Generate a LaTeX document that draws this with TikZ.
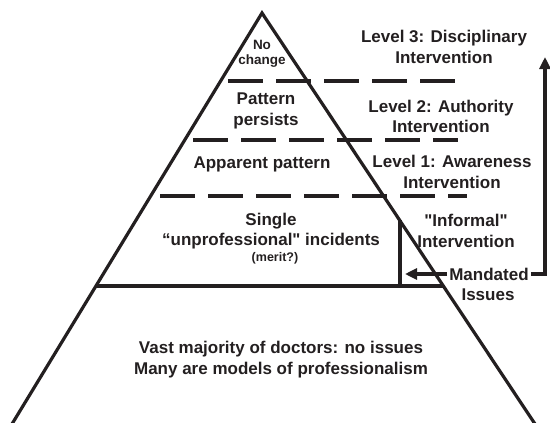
\documentclass[tikz,border=0pt]{standalone}
\usepackage{fontspec}
\setmainfont{Liberation Sans}[Ligatures=TeXOff]
\usetikzlibrary{arrows.meta}
\definecolor{ink}{HTML}{231F20}
\begin{document}
\begin{tikzpicture}[x=1pt,y=-1pt,
  lbl/.style={font=\bfseries\fontsize{17}{20.5}\selectfont, text=ink, align=center, inner sep=0pt},
  small/.style={font=\bfseries\fontsize{13.5}{15}\selectfont, text=ink, align=center, inner sep=0pt},
  tiny/.style={font=\bfseries\fontsize{12.5}{14}\selectfont, text=ink, align=center, inner sep=0pt},
  solidline/.style={draw=ink, line width=3.2pt},
  dashline/.style={draw=ink, line width=4pt, dash pattern=on 35pt off 13pt},
  conn/.style={draw=ink, line width=3.5pt},
  tip/.style={-{Triangle[length=12pt,width=11pt]}}]
\useasboundingbox (0,0) rectangle (550,423);
% pyramid
\coordinate (apex) at (262,13);
\coordinate (bl) at (12,424);
\coordinate (br) at (535,424);
\draw[solidline, line join=miter] (bl) -- (apex) -- (br);
% base line of upper part
\coordinate (hl) at (95.5,286);
\coordinate (hr) at (443.8,286);
\draw[solidline] (hl) -- (hr);
% vertical divider
\coordinate (vb) at (400,286);
\coordinate (vt) at (400,220.3);
\draw[solidline] (vb) -- (vt);
% dashed lines
\coordinate (d1a) at (228,81);  \coordinate (d1b) at (458,81);
\coordinate (d2a) at (193,140); \coordinate (d2b) at (458,140);
\coordinate (d3a) at (160,196); \coordinate (d3b) at (467,196);
\draw[dashline] (d1a) -- (d1b);
\draw[dashline] (d2a) -- (d2b);
\draw[dashline] (d3a) -- (d3b);
% pyramid texts
\node[small] (nochange) at (262,53.5) {No\\change};
\node[lbl] (persists) at (266,111) {Pattern\\persists};
\node[lbl] (apparent) at (262,164) {Apparent pattern};
\node[lbl] (single) at (271,231) {Single\\“unprofessional" incidents};
\node[tiny] (merit) at (275,258) {(merit?)};
\node[lbl] (vast) at (281,359.5) {Vast majority of doctors: no issues\\Many are models of professionalism};
% right labels
\node[lbl] (lev3) at (444,47) {Level 3: Disciplinary\\Intervention};
\node[lbl] (lev2) at (441,116.5) {Level 2: Authority\\Intervention};
\node[lbl] (lev1) at (452,172) {Level 1: Awareness\\Intervention};
\node[lbl] (informal) at (466,231) {"Informal"\\Intervention};
\node[lbl] (mandated) at (489,274) {Mandated};
\node[lbl] (issues) at (488,295) {Issues};
% arrows
\coordinate (arrtip) at (405,274);
\draw[conn, tip] ([xshift=-2pt]mandated.west) -- (arrtip);
\coordinate (brk) at (545,274);
\coordinate (top) at (545,57);
\draw[conn, tip] ([xshift=2pt]mandated.east) -- (brk) -- (top);
\end{tikzpicture}
\end{document}
